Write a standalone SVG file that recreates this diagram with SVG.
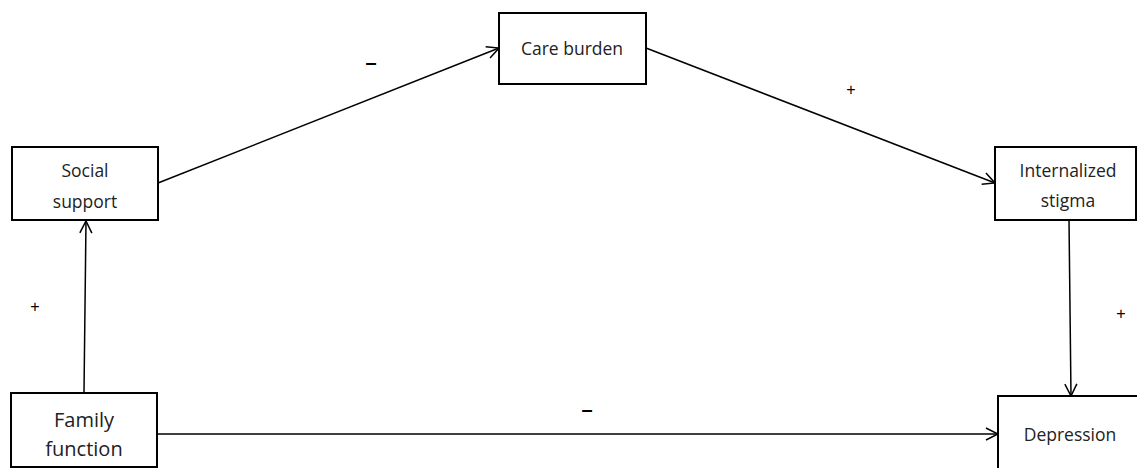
<svg xmlns="http://www.w3.org/2000/svg" width="1137" height="468" viewBox="0 0 1137 468">
<defs>
<style>
.box{fill:#fff;stroke:#000;stroke-width:2}
.lbl{font-family:"Open Sans","Liberation Sans",sans-serif;font-size:17.5px;fill:#222;text-anchor:middle}
.big{font-size:20px}
.edge{stroke:#000;stroke-width:1.5;fill:none;marker-end:url(#arr)}
.sign{font-family:"Liberation Sans",sans-serif;font-size:16px;fill:#000;text-anchor:middle}
.minus{font-size:20px;font-weight:bold}
</style>
<marker id="arr" viewBox="0 0 14 14" refX="13" refY="7" markerWidth="14" markerHeight="14" markerUnits="userSpaceOnUse" orient="auto">
<path d="M1,1 L13,7 L1,13" fill="none" stroke="#000" stroke-width="1.5"/>
</marker>
</defs>
<rect width="1137" height="468" fill="#fff"/>
<g id="connectors">
<line class="edge" x1="158" y1="183" x2="499" y2="48"/>
<line class="edge" x1="646" y1="48" x2="995" y2="183"/>
<line class="edge" x1="1069" y1="220" x2="1071" y2="396"/>
<line class="edge" x1="84" y1="393" x2="86" y2="221"/>
<line class="edge" x1="157" y1="434" x2="998" y2="434"/>
<text class="sign minus" x="371" y="69">–</text>
<text class="sign" x="851" y="95">+</text>
<text class="sign" x="35" y="312">+</text>
<text class="sign" x="1121" y="319">+</text>
<text class="sign minus" x="587" y="416">–</text>
</g>
<g id="social-support">
<rect class="box" x="12" y="147" width="146" height="73"/>
<text class="lbl" x="85" y="177">Social</text>
<text class="lbl" x="85" y="208">support</text>
</g>
<g id="care-burden">
<rect class="box" x="499" y="13" width="147" height="71"/>
<text class="lbl" x="572" y="55">Care burden</text>
</g>
<g id="internalized-stigma">
<rect class="box" x="995" y="147" width="141" height="73"/>
<text class="lbl" x="1068" y="177">Internalized</text>
<text class="lbl" x="1068" y="207">stigma</text>
</g>
<g id="family-function">
<rect class="box" x="11" y="393" width="146" height="74"/>
<text class="lbl big" x="84" y="427">Family</text>
<text class="lbl big" x="84" y="456">function</text>
</g>
<g id="depression">
<rect class="box" x="998" y="396" width="140" height="73"/>
<text class="lbl" x="1070" y="441">Depression</text>
</g>
</svg>
